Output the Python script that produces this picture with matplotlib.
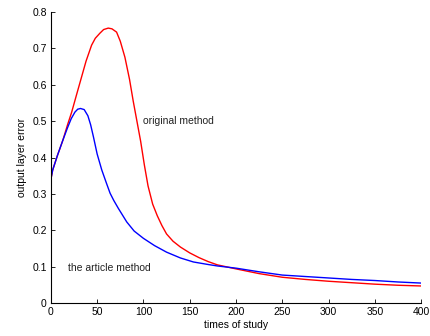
import matplotlib
matplotlib.use("Agg")
import matplotlib.pyplot as plt

orig_x = [0, 2, 7, 13, 18, 22.5, 28, 33, 38, 44, 48, 53, 57, 62, 66, 71, 75, 80, 85, 89, 93,
          97, 101, 105, 110, 115, 120, 125, 132, 140, 150, 160, 170, 180, 200, 225, 250,
          275, 300, 325, 350, 375, 400]
orig_y = [0.34, 0.366, 0.405, 0.448, 0.49, 0.525, 0.575, 0.62, 0.665, 0.709, 0.728, 0.742,
          0.752, 0.756, 0.754, 0.745, 0.72, 0.676, 0.615, 0.555, 0.5, 0.445, 0.38, 0.322,
          0.272, 0.24, 0.213, 0.19, 0.17, 0.154, 0.138, 0.125, 0.114, 0.105, 0.094,
          0.081, 0.071, 0.065, 0.06, 0.056, 0.052, 0.049, 0.047]

art_x = [0, 2, 7, 13, 18, 22, 26, 29, 32, 36, 40, 43, 46, 50, 55, 60, 64, 68, 73, 82, 90,
         100, 112, 125, 140, 154, 170, 180, 200, 225, 250, 275, 300, 325, 350, 375, 400]
art_y = [0.34, 0.366, 0.405, 0.448, 0.482, 0.507, 0.525, 0.533, 0.535, 0.532, 0.515, 0.49,
         0.457, 0.41, 0.366, 0.33, 0.302, 0.282, 0.26, 0.223, 0.198, 0.178, 0.158, 0.14,
         0.124, 0.113, 0.106, 0.102, 0.096, 0.086, 0.077, 0.073, 0.069, 0.065, 0.062,
         0.058, 0.055]

x_ticks = [0, 50, 100, 150, 200, 250, 300, 350, 400]
y_ticks = [0, 0.1, 0.2, 0.3, 0.4, 0.5, 0.6, 0.7, 0.8]

plt.rcParams["font.family"] = ["Liberation Sans", "DejaVu Sans"]
fig = plt.figure(figsize=(4.31, 3.36), dpi=100)
ax = fig.add_axes([0.118, 0.098, 0.859, 0.866])

ax.plot(orig_x, orig_y, color="#ff0000", lw=1.0)
ax.plot(art_x, art_y, color="#0000ff", lw=1.0)

ax.text(100, 0.5, "original method", fontsize=7.5, va="center", ha="left", color="#222222")
ax.text(18, 0.096, "the article method", fontsize=7.5, va="center", ha="left", color="#222222")

ax.set_xlim(0, 400)
ax.set_ylim(0, 0.8)
ax.set_xticks(x_ticks)
ax.set_yticks(y_ticks)
ax.set_xticklabels([str(v) for v in x_ticks])
ax.set_yticklabels(["0" if v == 0 else f"{v:g}" for v in y_ticks])
ax.tick_params(direction="in", length=3, labelsize=7.5, width=0.6, pad=3)
for s in ("top", "right"):
    ax.spines[s].set_visible(False)
for s in ("left", "bottom"):
    ax.spines[s].set_linewidth(0.8)
ax.set_xlabel("times of study", fontsize=7.5, labelpad=2)
ax.set_ylabel("output layer error", fontsize=7.5, labelpad=4)

fig.savefig("out.png", dpi=100)
